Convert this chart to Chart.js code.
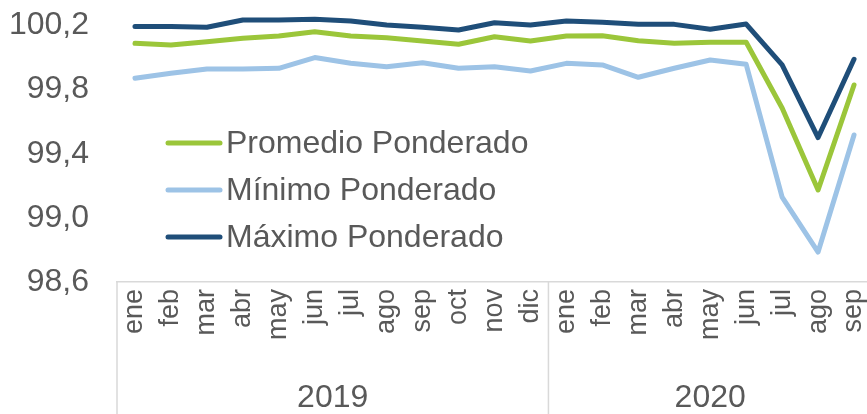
<!DOCTYPE html>
<html><head><meta charset="utf-8">
<script src="https://cdn.jsdelivr.net/npm/chart.js@4/dist/chart.umd.min.js"></script>
<style>
html,body{margin:0;padding:0;background:#fff;overflow:hidden;}
#wrap{width:867px;height:414px;overflow:hidden;position:relative;}
canvas{display:block;}
</style>
</head><body>
<div id="wrap"><canvas id="c" width="872" height="414" style="width:872px;height:414px"></canvas></div>
<script>
const months = ['ene','feb','mar','abr','may','jun','jul','ago','sep','oct','nov','dic',
                'ene','feb','mar','abr','may','jun','jul','ago','sep'];
const years = ['2019','2020'];
const yearCounts = [12, 9];
const promedio = [100.089,100.078,100.099,100.120,100.134,100.161,100.134,100.124,100.103,100.083,100.130,100.103,
                  100.134,100.136,100.105,100.089,100.095,100.095,99.685,99.174,99.829];
const minimo   = [99.871,99.902,99.929,99.929,99.933,100.000,99.964,99.943,99.968,99.933,99.943,99.916,
                  99.964,99.954,99.877,99.933,99.985,99.958,99.130,98.787,99.517];
const maximo   = [100.193,100.193,100.189,100.234,100.234,100.239,100.228,100.203,100.189,100.172,100.217,100.203,
                  100.228,100.220,100.207,100.207,100.176,100.209,99.954,99.501,99.989];
const yTicks = [98.6, 99.0, 99.4, 99.8, 100.2];
const seriesNames = ['Promedio Ponderado','Mínimo Ponderado','Máximo Ponderado'];
const seriesColors = ['#9BC63A','#9DC3E6','#1F4E79'];

const TEXT = '#595959';
const FONT = '"Liberation Sans", Arial, sans-serif';
const GRIDC = '#D9D9D9';

const decorPlugin = {
  id: 'decor',
  afterDraw(chart) {
    const ctx = chart.ctx;
    const x = chart.scales.x;
    const area = chart.chartArea;
    const H = chart.height;
    const half = (x.getPixelForValue(1) - x.getPixelForValue(0)) / 2;
    let start = 0;
    ctx.save();
    ctx.strokeStyle = GRIDC;
    ctx.lineWidth = 1.5;
    const bounds = [x.getPixelForValue(0) - half];
    yearCounts.forEach(c => { start += c; bounds.push(x.getPixelForValue(start - 1) + half); });
    bounds.forEach(b => {
      ctx.beginPath(); ctx.moveTo(b, area.bottom); ctx.lineTo(b, H); ctx.stroke();
    });
    ctx.fillStyle = TEXT;
    ctx.font = '32px ' + FONT;
    ctx.textAlign = 'center';
    ctx.textBaseline = 'middle';
    years.forEach((yr, i) => {
      ctx.fillText(yr, (bounds[i] + bounds[i+1]) / 2, 398);
    });
    // legend
    const legX = 168, legW = 52, legY0 = 143, legDY = 47;
    chart.data.datasets.forEach((ds, i) => {
      const yy = legY0 + i * legDY;
      ctx.strokeStyle = ds.borderColor;
      ctx.lineWidth = 5;
      ctx.lineCap = 'round';
      ctx.beginPath(); ctx.moveTo(legX, yy); ctx.lineTo(legX + legW, yy); ctx.stroke();
      ctx.fillStyle = TEXT;
      ctx.textAlign = 'left';
      ctx.font = '32px ' + FONT;
      ctx.fillText(ds.label, legX + legW + 6, yy + 1);
    });
    ctx.restore();
  }
};

const datasets = [promedio, minimo, maximo].map((d, i) => ({
  label: seriesNames[i], data: d, borderColor: seriesColors[i], backgroundColor: seriesColors[i],
  borderWidth: 5, pointRadius: 0, tension: 0, borderCapStyle: 'round', borderJoinStyle: 'round', fill: false
}));

new Chart(document.getElementById('c'), {
  type: 'line',
  data: { labels: months, datasets },
  options: {
    responsive: false, animation: false, devicePixelRatio: 1,
    layout: { padding: 0 },
    plugins: { legend: { display: false }, tooltip: { enabled: false } },
    scales: {
      x: {
        offset: true,
        grid: { display: false, drawTicks: false },
        border: { display: true, color: GRIDC, width: 1.5 },
        ticks: { autoSkip: false, maxRotation: 90, minRotation: 90, padding: 7,
                 color: TEXT, font: { family: FONT, size: 27 } },
        afterFit(s) { s.height = 132; s.paddingLeft = 0; s.paddingRight = 0; }
      },
      y: {
        min: 98.6, max: 100.359,
        grid: { display: false, drawTicks: false },
        border: { display: false },
        afterBuildTicks(s) { s.ticks = yTicks.map(v => ({ value: v })); },
        ticks: { padding: 28, color: TEXT, font: { family: FONT, size: 32 },
                 callback: v => Number(v).toFixed(1).replace('.', ',') },
        afterFit(s) { s.width = 117; s.paddingTop = 0; s.paddingBottom = 0; }
      }
    }
  },
  plugins: [decorPlugin]
});
</script>
</body></html>
